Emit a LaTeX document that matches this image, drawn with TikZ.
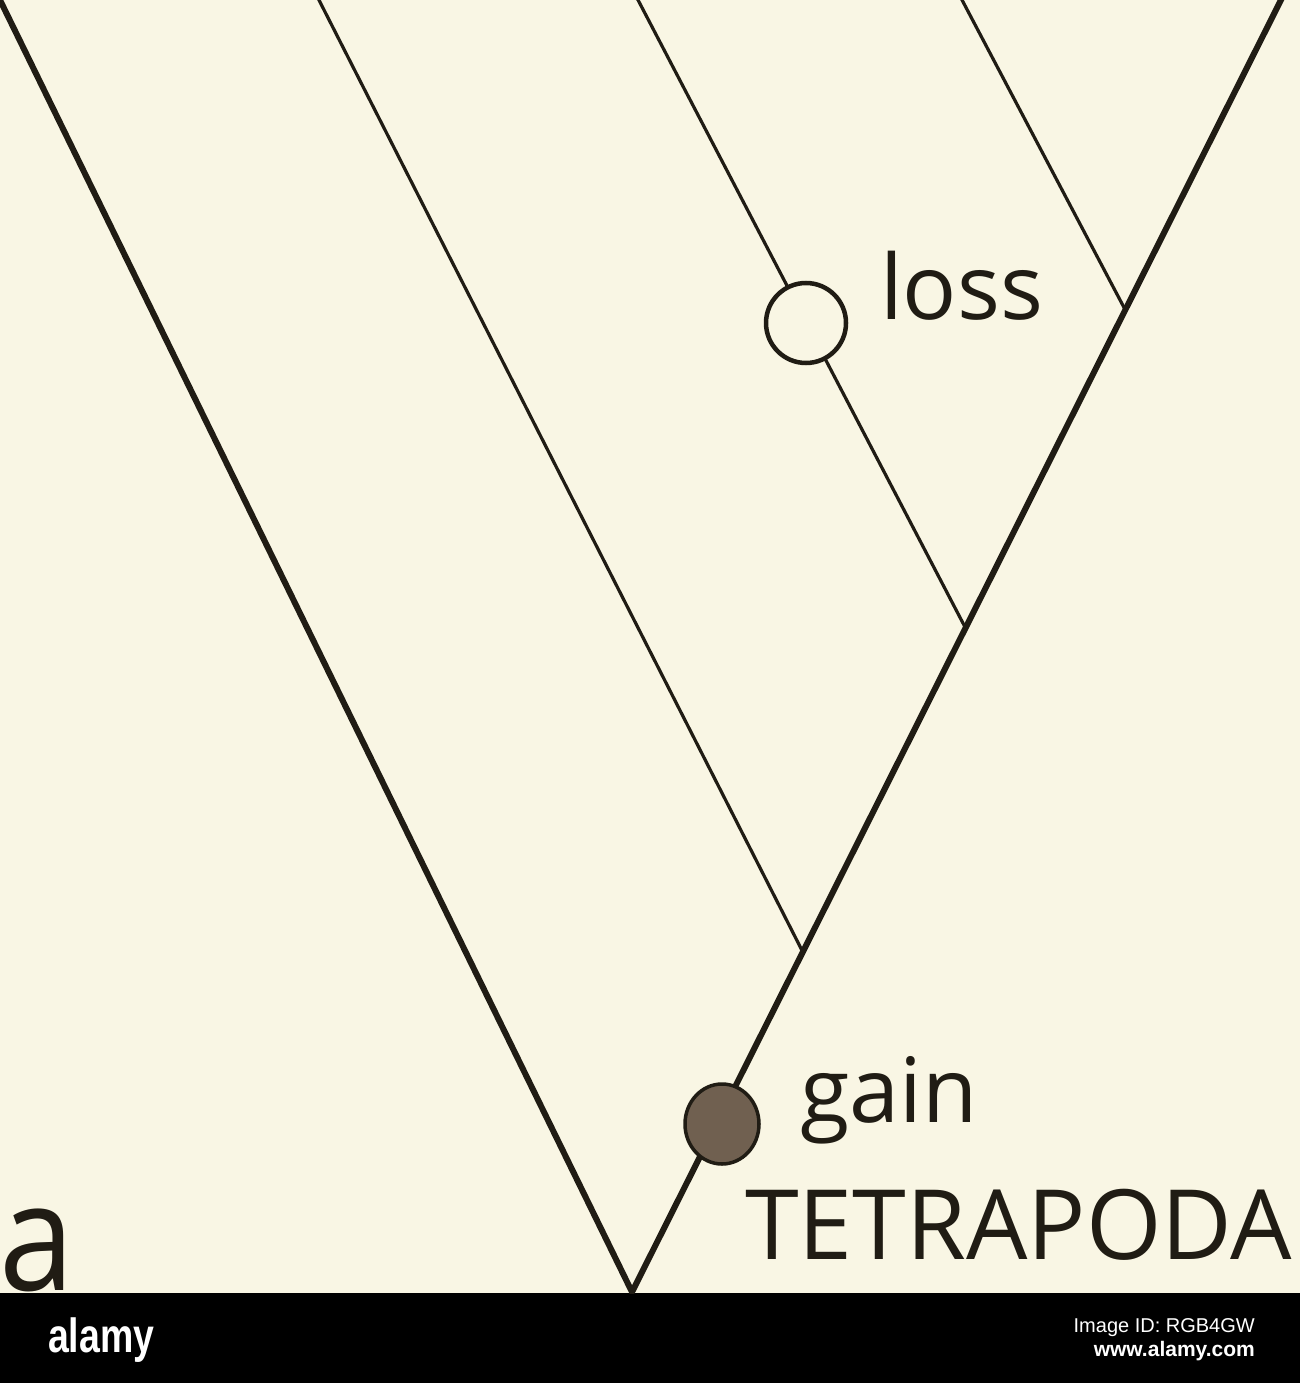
\documentclass[tikz,border=0pt]{standalone}
\usepackage{fontspec}
\usetikzlibrary{shapes.geometric}
\setmainfont{Open Sans}
\newfontfamily\wmfont{Liberation Sans}
\definecolor{bg}{RGB}{249,246,228}
\definecolor{ink}{RGB}{32,28,20}
\definecolor{gainfill}{RGB}{112,96,80}
\tikzset{
  thickbranch/.style={draw=ink, line width=6pt, line cap=round},
  thinbranch/.style={draw=ink, line width=3.2pt},
  label/.style={text=ink, inner sep=0pt, anchor=base west, font=\fontsize{90}{100}\selectfont},
  wm/.style={text=white, inner sep=0pt, font=\wmfont},
}
\begin{document}
\begin{tikzpicture}[x=1pt,y=-1pt]
\useasboundingbox (0,0) rectangle (1300,1383);
\fill[bg] (0,0) rectangle (1300,1293);
\fill[black] (0,1293) rectangle (1300,1383);
\coordinate (root) at (632,1292);
\coordinate (lt) at (-9.8,-20);
\coordinate (rt) at (1291,-20);
\coordinate (j2) at (802.8,952);
\coordinate (t2) at (308.8,-20);
\coordinate (j3) at (965.5,628);
\coordinate (t3) at (627.6,-20);
\coordinate (j4) at (1125.3,310);
\coordinate (t4) at (951.5,-20);
\begin{scope}
\clip (0,0) rectangle (1300,1293);
\draw[thinbranch] (j2) -- (t2);
\draw[thinbranch] (j3) -- (t3);
\draw[thinbranch] (j4) -- (t4);
\draw[thickbranch] (lt) -- (root) -- (rt);
\end{scope}
\node[circle, draw=ink, line width=4.5pt, fill=bg, minimum size=80pt, inner sep=0pt] (lossdot) at (806,323) {};
\node[ellipse, draw=ink, line width=3.5pt, fill=gainfill, minimum width=74pt, minimum height=80pt, inner sep=0pt] (gaindot) at (722,1124) {};
\node[label] (losstxt) at (880,319) {loss};
\node[label] (gaintxt) at (800,1122) {gain};
\node[label, font=\fontsize{97}{100}\selectfont] (tetra) at (745,1259) {TETRAPODA};
\node[label, font=\fontsize{150}{150}\selectfont, xscale=0.9] (panel) at (-1,1290) {a};
\node[wm, anchor=base west, font=\wmfont\bfseries\fontsize{48}{52}\selectfont, xscale=0.78] (logo) at (48,1352) {alamy};
\node[wm, anchor=base east, font=\wmfont\fontsize{20}{24}\selectfont] (imgid) at (1255,1332) {Image ID: RGB4GW};
\node[wm, anchor=base east, font=\wmfont\bfseries\fontsize{21}{26}\selectfont] (url) at (1255,1356) {www.alamy.com};
\end{tikzpicture}
\end{document}
